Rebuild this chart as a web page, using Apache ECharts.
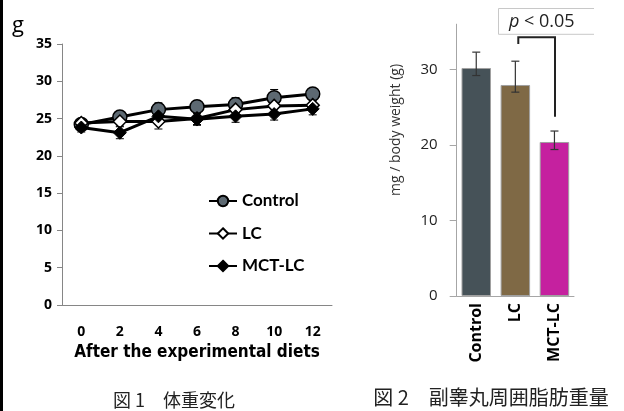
<!DOCTYPE html>
<html>
<head>
<meta charset="utf-8">
<script src="https://cdn.jsdelivr.net/npm/echarts@6/dist/echarts.min.js"></script>
<style>
html,body{margin:0;padding:0;background:#fff;}
#main{width:624px;height:411px;}
</style>
</head>
<body>
<div id="main"></div>
<script>
// ---- Figure 1: body weight (g) ----
const weeks = ['0', '2', '4', '6', '8', '10', '12'];
const controlMean = [24.2, 25.2, 26.2, 26.6, 26.9, 27.8, 28.3];
const controlErr  = [0.5, 0.6, 0.9, 0.8, 0.9, 1.1, 0.7];
const lcMean      = [24.4, 24.6, 24.6, 25.0, 26.2, 26.7, 26.8];
const lcErr       = [0.5, 0.6, 1.0, 0.8, 0.8, 0.8, 0.6];
const mctMean     = [23.8, 23.1, 25.3, 24.9, 25.3, 25.6, 26.3];
const mctErr      = [0.6, 0.8, 0.7, 0.8, 0.8, 0.8, 0.8];

// ---- Figure 2: epididymal fat weight ----
const groups   = ['Control', 'LC', 'MCT-LC'];
const fatMean  = [30.2, 27.95, 20.4];
const fatLow   = [29.2, 27.0, 19.4];
const fatHigh  = [32.3, 31.1, 21.85];
const rightTicks = [0, 10, 20, 30];

const barColors = ['#465258', '#7f6945', '#c5219f'];

function errData(mean, err) {
  return mean.map((m, i) => [i, m - err[i], m + err[i]]);
}
function errRender(cap, color, lw) {
  return function (params, api) {
    const x = api.value(0);
    const lo = api.coord([x, api.value(1)]);
    const hi = api.coord([x, api.value(2)]);
    const st = { stroke: color, lineWidth: lw };
    return {
      type: 'group',
      children: [
        { type: 'line', shape: { x1: lo[0], y1: lo[1], x2: hi[0], y2: hi[1] }, style: st },
        { type: 'line', shape: { x1: lo[0] - cap, y1: lo[1], x2: lo[0] + cap, y2: lo[1] }, style: st },
        { type: 'line', shape: { x1: hi[0] - cap, y1: hi[1], x2: hi[0] + cap, y2: hi[1] }, style: st }
      ]
    };
  };
}

const LEFT_FONT = 'Lato, "Open Sans", sans-serif';
const AXIS_FONT = '"Open Sans", Lato, sans-serif';
const RIGHT_FONT = '"Open Sans", "Noto Sans", sans-serif';

const chart = echarts.init(document.getElementById('main'), null, { renderer: 'canvas' });

const option = {
  animation: false,
  backgroundColor: '#fff',
  grid: [
    { left: 62, top: 44, width: 270, height: 261 },
    { left: 456.7, top: 24.2, width: 117.3, height: 271.8 }
  ],
  xAxis: [
    {
      type: 'category', gridIndex: 0, data: weeks, boundaryGap: true,
      axisLine: { lineStyle: { color: '#868686', width: 1 } },
      axisTick: { show: false },
      axisLabel: { color: '#000', fontFamily: AXIS_FONT, fontWeight: 'bold', fontSize: 14, margin: 20 },
      name: 'After the experimental diets',
      nameLocation: 'middle', nameGap: 39,
      nameTextStyle: { color: '#000', fontFamily: '"Liberation Sans Narrow", "DejaVu Sans Condensed", sans-serif', fontWeight: 'bold', fontSize: 17 }
    },
    {
      type: 'category', gridIndex: 1, data: groups, boundaryGap: true,
      axisLine: { lineStyle: { color: '#a6a6a6', width: 1 } },
      axisTick: { show: false },
      axisLabel: { rotate: 90, color: '#000', fontFamily: RIGHT_FONT, fontWeight: 'bold', fontSize: 16, margin: 7, interval: 0 }
    }
  ],
  yAxis: [
    {
      type: 'value', gridIndex: 0, min: 0, max: 35, interval: 5,
      axisLine: { show: true, lineStyle: { color: '#868686', width: 1 } },
      axisTick: { show: true, length: 5, lineStyle: { color: '#868686' } },
      axisLabel: { color: '#000', fontFamily: AXIS_FONT, fontWeight: 'bold', fontSize: 14, margin: 10 },
      splitLine: { show: false }
    },
    {
      type: 'value', gridIndex: 1, min: 0, max: 36, interval: 10,
      axisLine: { show: true, lineStyle: { color: '#a6a6a6', width: 1 } },
      axisTick: { show: true, length: 7, lineStyle: { color: '#a6a6a6' }, customValues: rightTicks },
      axisLabel: { color: '#222', fontFamily: RIGHT_FONT, fontSize: 15, margin: 19, customValues: rightTicks },
      splitLine: { show: false }
    }
  ],
  legend: {
    orient: 'vertical', left: 203, top: 187.5,
    itemWidth: 28, itemHeight: 13, itemGap: 15.5,
    textStyle: { color: '#000', fontFamily: LEFT_FONT, fontWeight: 'bold', fontSize: 17 },
    data: ['Control', 'LC', 'MCT-LC'],
    selectedMode: false
  },
  series: [
    {
      type: 'custom', name: 'errControl', xAxisIndex: 0, yAxisIndex: 0, z: 1,
      renderItem: errRender(4, '#000', 1), data: errData(controlMean, controlErr), silent: true
    },
    {
      type: 'custom', name: 'errLC', xAxisIndex: 0, yAxisIndex: 0, z: 1,
      renderItem: errRender(4, '#000', 1), data: errData(lcMean, lcErr), silent: true
    },
    {
      type: 'custom', name: 'errMCT', xAxisIndex: 0, yAxisIndex: 0, z: 1,
      renderItem: errRender(4, '#000', 1), data: errData(mctMean, mctErr), silent: true
    },
    {
      type: 'line', name: 'Control', xAxisIndex: 0, yAxisIndex: 0, z: 2,
      data: controlMean, symbol: 'circle', symbolSize: 14,
      lineStyle: { color: '#000', width: 3 },
      itemStyle: { color: '#5d6972', borderColor: '#000', borderWidth: 1.5 },
      emphasis: { disabled: true }
    },
    {
      type: 'line', name: 'LC', xAxisIndex: 0, yAxisIndex: 0, z: 3,
      data: lcMean, symbol: 'diamond', symbolSize: 13,
      lineStyle: { color: '#000', width: 3 },
      itemStyle: { color: '#fff', borderColor: '#000', borderWidth: 1.5 },
      emphasis: { disabled: true }
    },
    {
      type: 'line', name: 'MCT-LC', xAxisIndex: 0, yAxisIndex: 0, z: 4,
      data: mctMean, symbol: 'diamond', symbolSize: 13,
      lineStyle: { color: '#000', width: 3 },
      itemStyle: { color: '#000', borderColor: '#000', borderWidth: 1 },
      emphasis: { disabled: true }
    },
    {
      type: 'bar', name: 'fat', xAxisIndex: 1, yAxisIndex: 1, barWidth: 29.5, z: 2,
      data: fatMean.map((v, i) => ({ value: v, itemStyle: { color: barColors[i] } })),
      itemStyle: { borderColor: '#a0a0a0', borderWidth: 1 },
      emphasis: { disabled: true }
    },
    {
      type: 'custom', name: 'errFat', xAxisIndex: 1, yAxisIndex: 1, z: 5,
      renderItem: errRender(4, '#333', 1.2),
      data: fatMean.map((m, i) => [i, fatLow[i], fatHigh[i]]), silent: true
    }
  ],
  graphic: [
    { type: 'rect', shape: { x: 0, y: 0, width: 3, height: 411 }, style: { fill: '#000' } },
    {
      type: 'text', x: 12, y: 26,
      style: { text: 'g', fill: '#000', fontFamily: 'Open Sans', fontSize: 22, verticalAlign: 'middle', align: 'left' }
    },
    {
      type: 'text', x: 396, y: 130, rotation: Math.PI / 2,
      style: { text: 'mg / body weight (g)', fill: '#333', fontFamily: 'Open Sans', fontSize: 14, align: 'center', verticalAlign: 'middle' }
    },
    {
      type: 'polyline', shape: { points: [[594, 8.5], [498.5, 8.5], [498.5, 34.3], [594, 34.3]] },
      style: { stroke: '#c8c8c8', lineWidth: 1, fill: null }
    },
    {
      type: 'text', x: 509, y: 22,
      style: {
        text: '{i|p} < 0.05', verticalAlign: 'middle', align: 'left',
        fontFamily: 'Open Sans', fontSize: 18, fill: '#222',
        rich: { i: { fontStyle: 'italic', fontSize: 18, fontFamily: 'Open Sans', fill: '#222' } }
      }
    },
    {
      type: 'polyline', shape: { points: [[518.3, 44], [518.3, 37.3], [555, 37.3], [555, 116.7]] },
      style: { stroke: '#222', lineWidth: 2, fill: null }
    },
    {
      type: 'text', x: 174, y: 400,
      style: { text: '図 1　体重変化', fill: '#222', fontFamily: 'Noto Sans CJK JP', fontSize: 18, align: 'center', verticalAlign: 'middle' }
    },
    {
      type: 'text', x: 491, y: 397,
      style: { text: '図 2　副睾丸周囲脂肪重量', fill: '#222', fontFamily: 'Noto Sans CJK JP', fontSize: 20, align: 'center', verticalAlign: 'middle' }
    }
  ]
};
chart.setOption(option);
</script>
</body>
</html>
